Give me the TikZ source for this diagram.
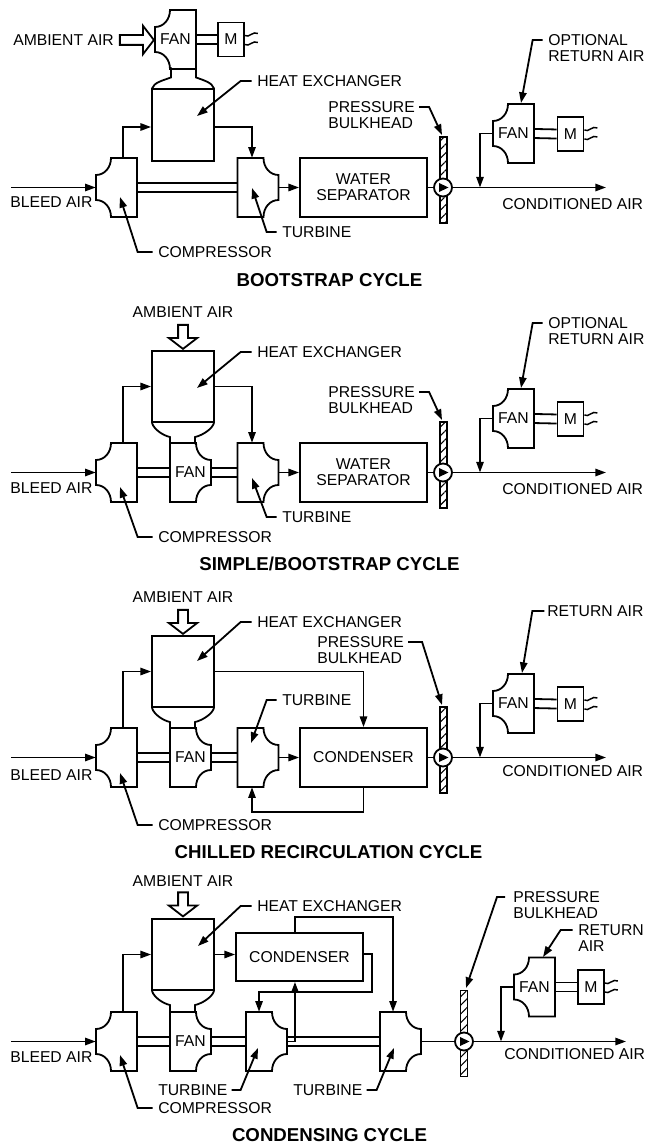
\documentclass[tikz,border=0pt]{standalone}
\usepackage{fontspec}
\setmainfont{Liberation Sans}
\usetikzlibrary{arrows.meta, positioning, shapes.arrows, patterns.meta}
\tikzset{
    pipe/.style={line width=1.35pt, line join=miter},
    arr/.style={pipe, -{Triangle[length=8pt, width=5.5pt]}},
    lbl/.style={inner sep=0pt, anchor=west, align=left, font=\fontsize{11.8}{12}\selectfont},
    ttl/.style={inner sep=0pt, font=\fontsize{14}{14}\selectfont\bfseries},
    unit/.style={inner sep=0pt, minimum width=30.75pt, minimum height=44.25pt, font=\fontsize{11.8}{12}\selectfont},
    plain/.style={pipe, draw, inner sep=0pt, align=center, font=\fontsize{11.8}{12}\selectfont},
    hxbox/.style={plain, minimum width=46.5pt, minimum height=53.5pt},
    sepbox/.style={plain, minimum width=95.25pt, minimum height=44.25pt},
    motor/.style={plain, minimum width=19.5pt, minimum height=25.5pt},
    bulkhead/.style={pipe, draw, inner sep=0pt, minimum width=5.25pt, minimum height=64.5pt,
        pattern={Lines[angle=45, distance=4.6pt, line width=.8pt]}},
    valve/.style={pipe, draw, circle, fill=white, inner sep=0pt, minimum size=13.5pt},
    ambient/.style={pipe, draw, single arrow, inner sep=0pt, text height=6pt, text depth=0pt, minimum width=20.25pt, minimum height=18pt,
        single arrow head extend=7pt, single arrow tip angle=105},
}
\newcommand{\lunit}[1]{\draw[pipe, shift={(#1.center)}] (-5.5,-29.5) -- (20.5,-29.5) -- (20.5,29.5) -- (-5.5,29.5)
    .. controls (-5.5,20) and (-12,12.5) .. (-20.5,12.5) -- (-20.5,-12.5)
    .. controls (-12,-12.5) and (-5.5,-20) .. (-5.5,-29.5) -- cycle;}
\newcommand{\runit}[1]{\draw[pipe, shift={(#1.center)}] (5.5,-29.5) -- (-20.5,-29.5) -- (-20.5,29.5) -- (5.5,29.5)
    .. controls (5.5,20) and (12,12.5) .. (20.5,12.5) -- (20.5,-12.5)
    .. controls (12,-12.5) and (5.5,-20) .. (5.5,-29.5) -- cycle;}
\newcommand{\domeup}[1]{\draw[pipe, shift={(#1.north)}] (-31,0) .. controls (-29,-6) and (-20,-8) .. (-12,-11) -- (-12,-21)
    (31,0) .. controls (29,-6) and (21,-8) .. (13,-11) -- (13,-21);}
\newcommand{\domedown}[1]{\draw[pipe, shift={(#1.south)}] (-31,0) .. controls (-29,6) and (-21,12) .. (-13,14) -- (-13,21)
    (31,0) .. controls (29,6) and (20,12) .. (12,14) -- (12,21);}
\newcommand{\shaft}[2]{\draw[pipe] ([yshift=3.4pt]#1.east) -- ([yshift=3.4pt]#2.west)
    ([yshift=-3.4pt]#1.east) -- ([yshift=-3.4pt]#2.west);}
\newcommand{\wires}[1]{\draw[pipe, line width=1.1pt, shift={(#1.east)}] (0,-4) .. controls (4,-1) and (8,-9) .. (13,-6)
    (0,5) .. controls (4,8) and (8,0) .. (13,3);}
\newcommand{\valvemark}[1]{\fill[shift={(#1.center)}] (-4,-4.5) -- (5.5,0) -- (-4,4.5) -- cycle;}
\begin{document}
\begin{tikzpicture}[x=0.75pt, y=-0.75pt]
\useasboundingbox (0,0) rectangle (645,1145);

\node[lbl] (amb1) at (13,40) {AMBIENT AIR};
\node[ambient, minimum height=25.5pt] (ambarr1) at (135,40) {};
\node[unit] (fan1) at (175.5,39.5) {FAN};
\lunit{fan1}
\node[motor] (mot1) at (570.5,134) {M};
\node[motor] (mot1a) at (231,39.5) {M};
\shaft{fan1}{mot1a}
\wires{mot1a}
\node[hxbox] (hx1) at (183,125) {};
\domeup{hx1}
\node[unit] (comp1) at (116.5,187.5) {};
\lunit{comp1}
\node[unit] (turb1) at (258,187.5) {};
\runit{turb1}
\shaft{comp1}{turb1}
\node[sepbox] (sep1) at (363.5,187.5) {WATER\\SEPARATOR};
\node[bulkhead] (bh1) at (443.5,180) {};
\node[valve] (vlv1) at (443,187.5) {};
\valvemark{vlv1}
\node[unit] (rfan1) at (513.5,133.5) {FAN};
\lunit{rfan1}
\shaft{rfan1}{mot1}
\wires{mot1}
\coordinate (bleed1) at (11,187.5);
\coordinate (out1) at (606,187.5);
\coordinate (join1) at (480,187.5);
\draw[arr] (bleed1) -- (comp1.west);
\draw[arr] ([xshift=4.9pt]comp1.north) |- ([yshift=-1.5pt]hx1.west);
\draw[arr] ([yshift=-1.5pt]hx1.east) -| ([xshift=-4.5pt]turb1.north);
\draw[arr] (turb1.east) -- (sep1.west);
\draw[pipe] (sep1.east) -- (vlv1.west);
\draw[arr] (vlv1.east) -- (out1);
\draw[arr] (rfan1.west) -| (join1);
\node[lbl] (bleedlab1) at (10,202) {BLEED AIR};
\node[lbl] (condlab1) at (502,204) {CONDITIONED AIR};
\node[lbl] (hxlab1) at (257,81) {HEAT EXCHANGER};
\node[lbl] (complab1) at (158,252) {COMPRESSOR};
\node[lbl] (turblab1) at (282,232) {TURBINE};
\node[lbl] (plab1) at (328,115) {PRESSURE\\BULKHEAD};
\node[lbl] (rlab1) at (548,48) {OPTIONAL\\RETURN AIR};
\coordinate (hxtip1) at (197,116);
\coordinate (comptip1) at (120,197);
\coordinate (turbtip1) at (252,188);
\coordinate (ptip1) at (442,135);
\coordinate (rtip1) at (521,103);
\draw[arr] ([xshift=-4pt]hxlab1.west) -- ++(-11,0) -- (hxtip1);
\draw[arr] ([xshift=-4pt]complab1.west) -- ++(-15,0) -- (comptip1);
\draw[arr] ([xshift=-4pt]turblab1.west) -- ++(-10,0) -- (turbtip1);
\draw[arr] ([xshift=3pt, yshift=6pt]plab1.east) -- ++(10,0) -- (ptip1);
\draw[arr] ([xshift=-4pt, yshift=6pt]rlab1.west) -- ++(-10,0) -- (rtip1);
\node[ttl] (title1) at (329.5,280) {BOOTSTRAP CYCLE};

\node[lbl, anchor=center] (amb2) at (183,312) {AMBIENT AIR};
\node[ambient, rotate=-90] (ambarr2) at (183,335) {};
\node[hxbox] (hx2) at (183,386.5) {};
\domedown{hx2}
\node[unit] (comp2) at (116.5,472.5) {};
\lunit{comp2}
\node[unit] (fan2) at (190.5,472.5) {FAN};
\runit{fan2}
\node[unit] (turb2) at (258,472.5) {};
\runit{turb2}
\shaft{comp2}{fan2}
\shaft{fan2}{turb2}
\node[sepbox] (sep2) at (363.5,472.5) {WATER\\SEPARATOR};
\node[bulkhead] (bh2) at (443.5,465) {};
\node[valve] (vlv2) at (443,472.5) {};
\valvemark{vlv2}
\node[unit] (rfan2) at (513.5,418.5) {FAN};
\lunit{rfan2}
\node[motor] (mot2) at (570.5,419) {M};
\shaft{rfan2}{mot2}
\wires{mot2}
\coordinate (bleed2) at (11,472.5);
\coordinate (out2) at (606,472.5);
\coordinate (join2) at (480,472.5);
\draw[arr] (bleed2) -- (comp2.west);
\draw[arr] ([xshift=4.9pt]comp2.north) |- (hx2.west);
\draw[arr] (hx2.east) -| ([xshift=-4.5pt]turb2.north);
\draw[arr] (turb2.east) -- (sep2.west);
\draw[pipe] (sep2.east) -- (vlv2.west);
\draw[arr] (vlv2.east) -- (out2);
\draw[arr] (rfan2.west) -| (join2);
\node[lbl] (bleedlab2) at (10,488) {BLEED AIR};
\node[lbl] (condlab2) at (502,489) {CONDITIONED AIR};
\node[lbl] (hxlab2) at (257,352) {HEAT EXCHANGER};
\node[lbl] (complab2) at (158,537) {COMPRESSOR};
\node[lbl] (turblab2) at (282,517) {TURBINE};
\node[lbl] (plab2) at (328,400) {PRESSURE\\BULKHEAD};
\node[lbl] (rlab2) at (548,331) {OPTIONAL\\RETURN AIR};
\coordinate (hxtip2) at (197,388);
\coordinate (comptip2) at (120,487);
\coordinate (turbtip2) at (252,478);
\coordinate (ptip2) at (442,420);
\coordinate (rtip2) at (521,388);
\draw[arr] ([xshift=-4pt]hxlab2.west) -- ++(-11,0) -- (hxtip2);
\draw[arr] ([xshift=-4pt]complab2.west) -- ++(-15,0) -- (comptip2);
\draw[arr] ([xshift=-4pt]turblab2.west) -- ++(-10,0) -- (turbtip2);
\draw[arr] ([xshift=3pt, yshift=6pt]plab2.east) -- ++(10,0) -- (ptip2);
\draw[arr] ([xshift=-4pt, yshift=6pt]rlab2.west) -- ++(-10,0) -- (rtip2);
\node[ttl] (title2) at (329.5,564) {SIMPLE/BOOTSTRAP CYCLE};

\node[lbl, anchor=center] (amb3) at (183,597) {AMBIENT AIR};
\node[ambient, rotate=-90] (ambarr3) at (183,620) {};
\node[hxbox] (hx3) at (183,671.5) {};
\domedown{hx3}
\node[unit] (comp3) at (116.5,757.5) {};
\lunit{comp3}
\node[unit] (fan3) at (190.5,757.5) {FAN};
\runit{fan3}
\node[unit] (turb3) at (258,757.5) {};
\runit{turb3}
\shaft{comp3}{fan3}
\shaft{fan3}{turb3}
\node[sepbox] (cond3) at (363.5,757.5) {CONDENSER};
\node[bulkhead] (bh3) at (443.5,750) {};
\node[valve] (vlv3) at (443,757.5) {};
\valvemark{vlv3}
\node[unit] (rfan3) at (513.5,703.5) {FAN};
\lunit{rfan3}
\node[motor] (mot3) at (570.5,704) {M};
\shaft{rfan3}{mot3}
\wires{mot3}
\coordinate (bleed3) at (11,757.5);
\coordinate (out3) at (606,757.5);
\coordinate (join3) at (480,757.5);
\draw[arr] (bleed3) -- (comp3.west);
\draw[arr] ([xshift=4.9pt]comp3.north) |- (hx3.west);
\draw[arr] (hx3.east) -| (cond3.north);
\draw[arr] (turb3.east) -- (cond3.west);
\draw[arr] (cond3.south) -- ++(0,24) -| ([xshift=-4.5pt]turb3.south);
\draw[pipe] (cond3.east) -- (vlv3.west);
\draw[arr] (vlv3.east) -- (out3);
\draw[arr] (rfan3.west) -| (join3);
\node[lbl] (bleedlab3) at (10,775) {BLEED AIR};
\node[lbl] (condlab3) at (502,771) {CONDITIONED AIR};
\node[lbl] (hxlab3) at (257,622) {HEAT EXCHANGER};
\node[lbl] (complab3) at (158,825) {COMPRESSOR};
\node[lbl] (turblab3) at (282,700) {TURBINE};
\node[lbl] (plab3) at (317,650) {PRESSURE\\BULKHEAD};
\node[lbl] (rlab3) at (547,611) {RETURN AIR};
\coordinate (hxtip3) at (197,661);
\coordinate (comptip3) at (120,773);
\coordinate (turbtip3) at (251,743);
\coordinate (ptip3) at (442,705);
\coordinate (rtip3) at (522,673);
\draw[arr] ([xshift=-4pt]hxlab3.west) -- ++(-11,0) -- (hxtip3);
\draw[arr] ([xshift=-4pt]complab3.west) -- ++(-15,0) -- (comptip3);
\draw[arr] ([xshift=-4pt]turblab3.west) -- ++(-10,0) -- (turbtip3);
\draw[arr] ([xshift=3pt, yshift=6pt]plab3.east) -- ++(14,0) -- (ptip3);
\draw[arr] ([xshift=-2pt]rlab3.west) -- ++(-12,0) -- (rtip3);
\node[ttl] (title3) at (328.5,852) {CHILLED RECIRCULATION CYCLE};

\node[lbl, anchor=center] (amb4) at (183,881) {AMBIENT AIR};
\node[ambient, rotate=-90] (ambarr4) at (183,902.5) {};
\node[hxbox] (hx4) at (183,954.5) {};
\domedown{hx4}
\node[unit] (comp4) at (116.5,1041.5) {};
\lunit{comp4}
\node[unit] (fan4) at (190.5,1041.5) {FAN};
\runit{fan4}
\node[unit] (turba4) at (266.5,1041.5) {};
\runit{turba4}
\node[unit] (turbb4) at (400.5,1041.5) {};
\runit{turbb4}
\shaft{comp4}{fan4}
\shaft{fan4}{turba4}
\shaft{turba4}{turbb4}
\node[plain, minimum width=95.25pt, minimum height=36pt] (cond4) at (299.5,957) {CONDENSER};
\node[bulkhead] (bh4) at (464,1033.5) {};
\node[valve] (vlv4) at (464,1041.5) {};
\valvemark{vlv4}
\node[unit] (rfan4) at (534.5,987) {FAN};
\lunit{rfan4}
\node[motor] (mot4) at (591,987) {M};
\shaft{rfan4}{mot4}
\wires{mot4}
\coordinate (bleed4) at (11,1041.5);
\coordinate (out4) at (626,1041.5);
\coordinate (join4) at (501,1041.5);
\draw[arr] (bleed4) -- (comp4.west);
\draw[arr] ([xshift=4.9pt]comp4.north) |- (hx4.west);
\draw[arr] (hx4.east) -- (hx4.east -| cond4.west);
\draw[arr] ([xshift=-3.4pt]cond4.north) -- ++(0,-15) -| ([xshift=-5.6pt]turbb4.north);
\draw[arr] ([yshift=2.25pt]cond4.east) -- ++(8,0) -- ++(0,38) -| ([xshift=-5.6pt]turba4.north);
\draw[arr] (turba4.east) -| ([xshift=-3.4pt]cond4.south);
\draw[pipe] (turbb4.east) -- (vlv4.west);
\draw[arr] (vlv4.east) -- (out4);
\draw[arr] (rfan4.west) -| (join4);
\node[lbl] (bleedlab4) at (10,1057) {BLEED AIR};
\node[lbl] (condlab4) at (504,1054) {CONDITIONED AIR};
\node[lbl] (hxlab4) at (257,906) {HEAT EXCHANGER};
\node[lbl] (complab4) at (158,1108) {COMPRESSOR};
\node[lbl] (turblaba4) at (158,1090) {TURBINE};
\node[lbl] (turblabb4) at (293,1090) {TURBINE};
\node[lbl] (plab4) at (513,905) {PRESSURE\\BULKHEAD};
\node[lbl] (rlab4) at (578,938) {RETURN\\AIR};
\coordinate (hxtip4) at (198,946);
\coordinate (comptip4) at (120,1055);
\coordinate (turbtipa4) at (258,1048);
\coordinate (turbtipb4) at (394,1048);
\coordinate (ptip4) at (466,988);
\coordinate (rtip4) at (543,957);
\draw[arr] ([xshift=-4pt]hxlab4.west) -- ++(-11,0) -- (hxtip4);
\draw[arr] ([xshift=-4pt]complab4.west) -- ++(-15,0) -- (comptip4);
\draw[arr] ([xshift=3pt]turblaba4.east) -- ++(9,0) -- (turbtipa4);
\draw[arr] ([xshift=3pt]turblabb4.east) -- ++(10,0) -- (turbtipb4);
\draw[arr] ([xshift=-6pt, yshift=6pt]plab4.west) -- ++(-8,0) -- (ptip4);
\draw[arr] ([xshift=-4pt, yshift=6pt]rlab4.west) -- ++(-12,0) -- (rtip4);
\node[ttl] (title4) at (329.5,1135) {CONDENSING CYCLE};
\end{tikzpicture}
\end{document}
